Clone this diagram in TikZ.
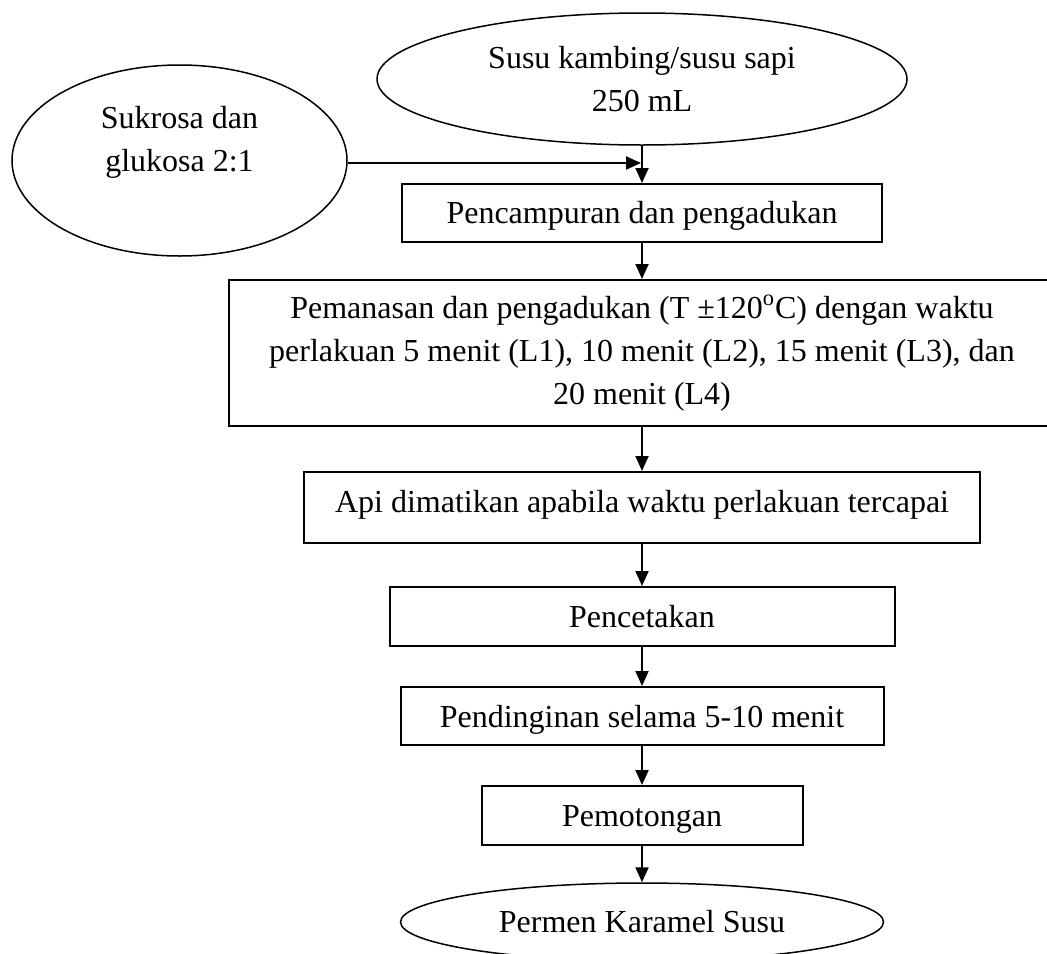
\documentclass[tikz,border=0pt]{standalone}
\usepackage{fontspec}
\setmainfont{Liberation Serif}
\usetikzlibrary{arrows.meta,shapes.geometric}
\tikzset{
  basefont/.style={font=\fontsize{16pt}{21.5pt}\selectfont},
  procbox/.style={draw, line width=1pt, rectangle, inner xsep=0pt, inner ysep=0pt, basefont, anchor=base},
  ell/.style={draw, line width=0.75pt, ellipse, inner sep=0pt, basefont, align=center},
  arr/.style={draw, line width=1pt, -{Triangle[length=7.5pt,width=6.5pt]}},
  plaintext/.style={basefont, align=center, inner sep=0pt}
}
\begin{document}
\begin{tikzpicture}[x=0.5pt,y=-0.5pt]
\useasboundingbox (0,0) rectangle (1047,953);
\clip (0,0) rectangle (1047,953);
% inputs
\node[ell, minimum width=265pt, minimum height=66pt] (milk) at (642,79) {Susu kambing/susu sapi\\250 mL};
\node[ell, minimum width=167.5pt, minimum height=95.5pt] (sugar) at (179.5,160.5) {};
\node[plaintext] (sugartext) at (179.5,142) {Sukrosa dan\\glukosa 2:1};
\coordinate (j) at (641,163);
% process boxes
\node[procbox, minimum width=240pt, text height=19.5pt, text depth=9.5pt] (b1) at (642,223) {Pencampuran dan pengadukan};
\node[draw, line width=1pt, rectangle, inner sep=0pt, basefont, align=center, minimum width=413pt, minimum height=73pt] (b2) at (642,353)
  {Pemanasan dan pengadukan (T ±120\textsuperscript{o}C) dengan waktu\\perlakuan 5 menit (L1), 10 menit (L2), 15 menit (L3), dan\\20 menit (L4)};
\node[procbox, minimum width=338pt, text height=20pt, text depth=15.5pt] (b3) at (642,512) {Api dimatikan apabila waktu perlakuan tercapai};
\node[procbox, minimum width=252.5pt, text height=20pt, text depth=9.5pt] (b4) at (642,627) {Pencetakan};
\node[procbox, minimum width=241.5pt, text height=20pt, text depth=9pt] (b5) at (642,727) {Pendinginan selama 5-10 menit};
\node[procbox, minimum width=160.5pt, text height=20pt, text depth=9.5pt] (b6) at (642,826) {Pemotongan};
\node[ell, minimum width=241.5pt, minimum height=39pt] (final) at (642,922) {Permen Karamel Susu};
% connectors
\draw[arr] (sugar.east |- j) -- (j);
\draw[arr] (milk.south) -- (b1.north);
\draw[arr] (b1.south) -- (b2.north);
\draw[arr] (b2.south) -- (b3.north);
\draw[arr] (b3.south) -- (b4.north);
\draw[arr] (b4.south) -- (b5.north);
\draw[arr] (b5.south) -- (b6.north);
\draw[arr] (b6.south) -- (final.north);
\end{tikzpicture}
\end{document}
